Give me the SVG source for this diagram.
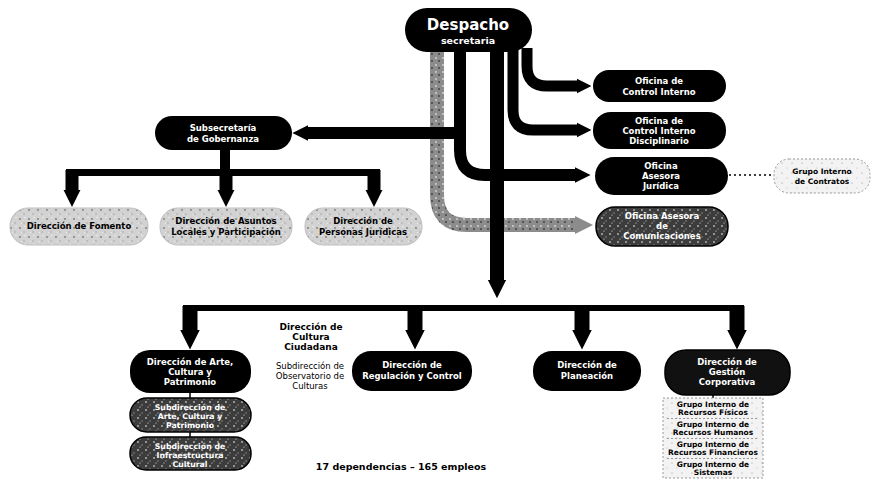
<svg xmlns="http://www.w3.org/2000/svg" width="888" height="482" viewBox="0 0 888 482">
<defs>
<pattern id="spL" width="9" height="9" patternUnits="userSpaceOnUse"><rect width="9" height="9" fill="#d2d2d2"/><circle cx="2" cy="3" r="0.9" fill="#7a7a7a"/><circle cx="6" cy="7" r="0.7" fill="#9a9a9a"/><circle cx="7" cy="1.5" r="0.7" fill="#f4f4f4"/><circle cx="3.5" cy="7.5" r="0.6" fill="#f0f0f0"/></pattern>
<pattern id="spD" width="8" height="8" patternUnits="userSpaceOnUse"><rect width="8" height="8" fill="#3c3c3c"/><circle cx="2" cy="2" r="0.9" fill="#bdbdbd"/><circle cx="6" cy="5" r="0.8" fill="#8a8a8a"/><circle cx="4" cy="7" r="0.6" fill="#e0e0e0"/></pattern>
<pattern id="spG" width="7" height="7" patternUnits="userSpaceOnUse"><rect width="7" height="7" fill="#8c8c8c"/><circle cx="2" cy="2" r="0.9" fill="#d8d8d8"/><circle cx="5" cy="5" r="0.9" fill="#3a3a3a"/></pattern>
<pattern id="spW" width="10" height="10" patternUnits="userSpaceOnUse"><rect width="10" height="10" fill="#f3f3f3"/><circle cx="2" cy="3" r="0.6" fill="#8a8a8a"/><circle cx="7" cy="8" r="0.5" fill="#aaa"/></pattern>
<marker id="ah" viewBox="0 0 10 10" refX="0" refY="5" markerWidth="1.3" markerHeight="2.5" orient="auto" markerUnits="strokeWidth"><path d="M0,0 L10,5 L0,10 z" fill="#000"/></marker>
<marker id="ahg" viewBox="0 0 10 10" refX="0" refY="5" markerWidth="1.3" markerHeight="2.5" orient="auto" markerUnits="strokeWidth"><path d="M0,0 L10,5 L0,10 z" fill="#8c8c8c"/></marker>
</defs>
<style>
.blk{fill:#000}
.drk{fill:url(#spD);stroke:#000;stroke-width:1.5}
.lgt{fill:url(#spL);stroke:#bdbdbd;stroke-width:1}
.grp{fill:url(#spW);stroke:#999;stroke-width:1;stroke-dasharray:2 2}
.c{fill:none;stroke:#000;stroke-linecap:butt}
.t{font-family:"DejaVu Sans","Liberation Sans",sans-serif;font-weight:bold;text-anchor:middle}
.w{fill:#fff}
.k{fill:#000}
.s9{font-size:8.5px}
.s8{font-size:7.8px}
.s7{font-size:7.5px}
.n{font-weight:normal}
</style>

<g id="connectors">
<path class="c" d="M437,52 V195 Q437,225 467,225 H575" style="stroke:url(#spG)" stroke-width="14" marker-end="url(#ahg)"/>
<path class="c" d="M460,52 V150 Q460,175 485,175 H575" stroke-width="12" marker-end="url(#ah)"/>
<path class="c" d="M460,133 H308" stroke-width="12" marker-end="url(#ah)"/>
<path class="c" d="M497,52 V280" stroke-width="14" marker-end="url(#ah)"/>
<path class="c" d="M513,50 V110 Q513,130 533,130 H577" stroke-width="11" marker-end="url(#ah)"/>
<path class="c" d="M527,48 V66 Q527,86 547,86 H577" stroke-width="11" marker-end="url(#ah)"/>
<path class="c" d="M729,175 H773" stroke-width="1.5" stroke-dasharray="2 3"/>
<path class="c" d="M225,150 V172" stroke-width="10"/>
<path class="c" d="M66,172.5 H380" stroke-width="7"/>
<path class="c" d="M72,170 V190" stroke-width="13" marker-end="url(#ah)"/>
<path class="c" d="M226,170 V190" stroke-width="13" marker-end="url(#ah)"/>
<path class="c" d="M374,170 V190" stroke-width="13" marker-end="url(#ah)"/>
<path class="c" d="M183,308 H744" stroke-width="6"/>
<path class="c" d="M190,306 V330" stroke-width="15" marker-end="url(#ah)"/>
<path class="c" d="M415,306 V330" stroke-width="15" marker-end="url(#ah)"/>
<path class="c" d="M582,306 V330" stroke-width="15" marker-end="url(#ah)"/>
<path class="c" d="M737,306 V330" stroke-width="15" marker-end="url(#ah)"/>
<path class="c" d="M190,393 V398 M190,432 V437 M713,395 V398" stroke-width="1.5"/>
</g>

<g id="despacho">
<rect class="blk" x="405" y="8" width="127" height="44" rx="22"/>
<text class="t w" x="468" y="30" font-size="15">Despacho</text>
<text class="t w" x="468" y="44" font-size="9.5">secretaria</text>
</g>

<g id="oficina-control-interno">
<rect class="blk" x="593" y="70" width="133" height="32" rx="16"/>
<text class="t w s9" x="659" y="84">Oficina de</text>
<text class="t w s9" x="659" y="95">Control Interno</text>
</g>

<g id="oficina-control-disciplinario">
<rect class="blk" x="593" y="112" width="133" height="37" rx="18"/>
<text class="t w s9" x="659" y="124">Oficina de</text>
<text class="t w s9" x="659" y="134">Control Interno</text>
<text class="t w s9" x="659" y="144">Disciplinario</text>
</g>

<g id="oficina-juridica">
<rect class="blk" x="595" y="157" width="133" height="38" rx="19"/>
<text class="t w s9" x="661" y="169">Oficina</text>
<text class="t w s9" x="661" y="179">Asesora</text>
<text class="t w s9" x="661" y="189">Jurídica</text>
</g>

<g id="oficina-comunicaciones">
<rect class="drk" x="596" y="207" width="132" height="39" rx="19"/>
<text class="t w s9" x="662" y="219">Oficina Asesora</text>
<text class="t w s9" x="662" y="229">de</text>
<text class="t w s9" x="662" y="239">Comunicaciones</text>
</g>

<g id="grupo-contratos">
<rect class="grp" x="774" y="159" width="96" height="34" rx="15"/>
<text class="t k s7" x="822" y="174">Grupo Interno</text>
<text class="t k s7" x="822" y="184">de Contratos</text>
</g>

<g id="subsecretaria">
<rect class="blk" x="155" y="116" width="137" height="34" rx="17"/>
<text class="t w s9" x="223" y="131">Subsecretaría</text>
<text class="t w s9" x="223" y="142">de Gobernanza</text>
</g>

<g id="direccion-fomento">
<rect class="lgt" x="10" y="208" width="138" height="37" rx="18"/>
<text class="t k s9" x="79" y="229">Dirección de Fomento</text>
</g>

<g id="direccion-asuntos-locales">
<rect class="lgt" x="160" y="208" width="132" height="37" rx="18"/>
<text class="t k s9" x="226" y="224">Dirección de Asuntos</text>
<text class="t k s9" x="226" y="235">Locales y Participación</text>
</g>

<g id="direccion-personas-juridicas">
<rect class="lgt" x="305" y="208" width="117" height="37" rx="18"/>
<text class="t k s9" x="363" y="224">Dirección de</text>
<text class="t k s9" x="363" y="235">Personas Jurídicas</text>
</g>

<g id="direccion-arte">
<rect class="blk" x="130" y="350" width="121" height="43" rx="20"/>
<text class="t w s9" x="190" y="365">Dirección de Arte,</text>
<text class="t w s9" x="190" y="375">Cultura y</text>
<text class="t w s9" x="190" y="385">Patrimonio</text>
</g>

<g id="subdireccion-arte">
<rect class="drk" x="130" y="398" width="121" height="34" rx="17"/>
<text class="t w s8" x="190" y="410">Subdirección de</text>
<text class="t w s8" x="190" y="419">Arte, Cultura y</text>
<text class="t w s8" x="190" y="428">Patrimonio</text>
</g>

<g id="subdireccion-infraestructura">
<rect class="drk" x="130" y="437" width="121" height="33" rx="16"/>
<text class="t w s8" x="190" y="449">Subdirección de</text>
<text class="t w s8" x="190" y="458">Infraestructura</text>
<text class="t w s8" x="190" y="467">Cultural</text>
</g>

<g id="direccion-cultura-ciudadana">
<text class="t k" font-size="9" x="311" y="330">Dirección de</text>
<text class="t k" font-size="9" x="311" y="340">Cultura</text>
<text class="t k" font-size="9" x="311" y="350">Ciudadana</text>
</g>

<g id="subdireccion-observatorio">
<text class="t k n" font-size="8.5" x="310" y="369">Subdirección de</text>
<text class="t k n" font-size="8.5" x="310" y="379">Observatorio de</text>
<text class="t k n" font-size="8.5" x="310" y="389">Culturas</text>
</g>

<g id="direccion-regulacion">
<rect class="blk" x="352" y="351" width="120" height="40" rx="19"/>
<text class="t w s9" x="412" y="368">Dirección de</text>
<text class="t w s9" x="412" y="379">Regulación y Control</text>
</g>

<g id="direccion-planeacion">
<rect class="blk" x="533" y="351" width="108" height="40" rx="19"/>
<text class="t w s9" x="587" y="368">Dirección de</text>
<text class="t w s9" x="587" y="379">Planeación</text>
</g>

<g id="direccion-gestion-corporativa">
<rect class="drk" x="665" y="350" width="125" height="45" rx="21" style="fill:#111"/>
<text class="t w s9" x="727" y="365">Dirección de</text>
<text class="t w s9" x="727" y="375">Gestión</text>
<text class="t w s9" x="727" y="385">Corporativa</text>
</g>

<g id="grupos-internos">
<rect class="grp" x="663" y="398" width="100" height="80"/>
<path d="M667,418.5 H759 M667,438.5 H759 M667,458.5 H759" stroke="#999" stroke-width="1" stroke-dasharray="2 2" fill="none"/>
<text class="t k s7" x="713" y="407">Grupo Interno de</text>
<text class="t k s7" x="713" y="415">Recursos Físicos</text>
<text class="t k s7" x="713" y="427">Grupo Interno de</text>
<text class="t k s7" x="713" y="435">Recursos Humanos</text>
<text class="t k s7" x="713" y="447">Grupo Interno de</text>
<text class="t k s7" x="713" y="455">Recursos Financieros</text>
<text class="t k s7" x="713" y="467">Grupo Interno de</text>
<text class="t k s7" x="713" y="475">Sistemas</text>
</g>

<text class="t k" font-size="9.5" x="401" y="470">17 dependencias – 165 empleos</text>
</svg>
